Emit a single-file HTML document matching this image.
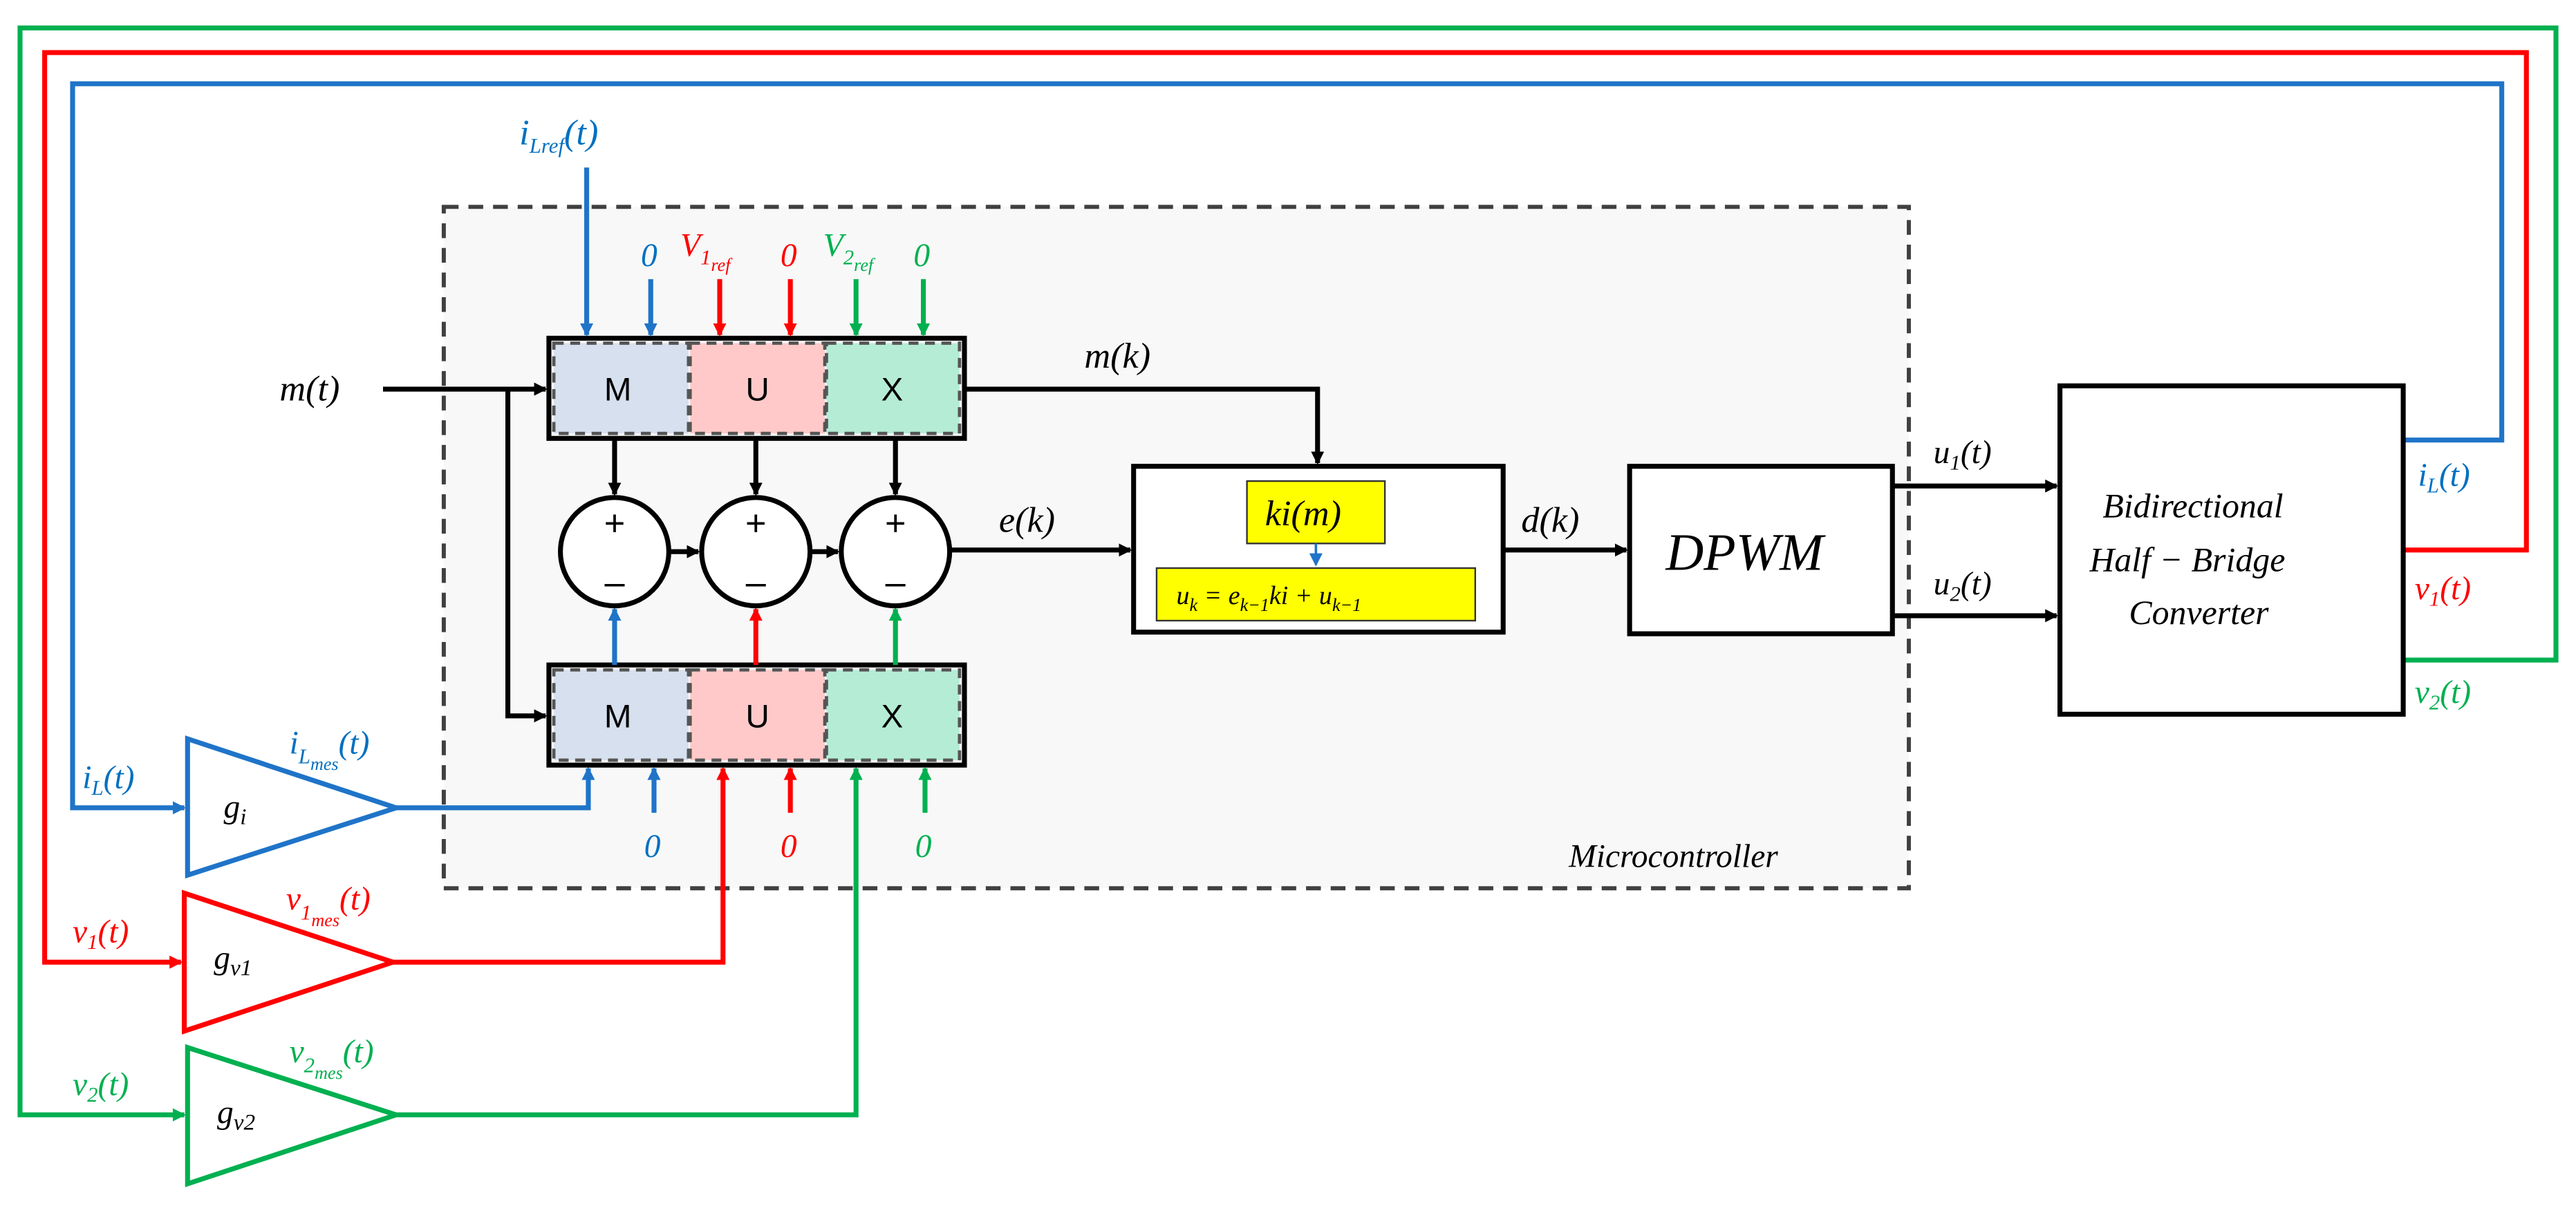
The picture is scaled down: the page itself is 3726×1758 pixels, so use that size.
<!DOCTYPE html>
<html><head><meta charset="utf-8">
<style>
html,body{margin:0;padding:0;background:#fff;}
svg{display:block;}
text{font-family:"Liberation Serif",serif;font-style:italic;}
.s{font-family:"Liberation Sans",sans-serif;font-style:normal;}
</style></head><body>
<svg width="3726" height="1758" viewBox="0 0 1568 740" xmlns="http://www.w3.org/2000/svg">
<defs>
<marker id="ak" markerWidth="8" markerHeight="8" refX="7" refY="4" orient="auto" markerUnits="userSpaceOnUse"><path d="M0,0 L8,4 L0,8 Z" fill="#000"/></marker>
<marker id="ab" markerWidth="8" markerHeight="8" refX="7" refY="4" orient="auto" markerUnits="userSpaceOnUse"><path d="M0,0 L8,4 L0,8 Z" fill="#1f74c8"/></marker>
<marker id="ar" markerWidth="8" markerHeight="8" refX="7" refY="4" orient="auto" markerUnits="userSpaceOnUse"><path d="M0,0 L8,4 L0,8 Z" fill="#f00"/></marker>
<marker id="ag" markerWidth="8" markerHeight="8" refX="7" refY="4" orient="auto" markerUnits="userSpaceOnUse"><path d="M0,0 L8,4 L0,8 Z" fill="#00b050"/></marker>
</defs>
<rect x="0" y="0" width="1568" height="740" fill="#fff"/>
<!-- microcontroller box -->
<rect x="270" y="126" width="892" height="415" fill="#f8f8f8" stroke="#404040" stroke-width="2.5" stroke-dasharray="9,6"/>
<text x="955" y="528" font-size="20">Microcontroller</text>

<!-- feedback loops -->
<polyline points="1463,402 1556,402 1556,17 12,17 12,679 112,679" fill="none" stroke="#00b050" stroke-width="3" marker-end="url(#ag)"/>
<polyline points="1463,335 1538,335 1538,32 27,32 27,586 110,586" fill="none" stroke="#f00" stroke-width="3" marker-end="url(#ar)"/>
<polyline points="1463,268 1523,268 1523,51 44,51 44,492 112,492" fill="none" stroke="#1f74c8" stroke-width="3" marker-end="url(#ab)"/>

<!-- triangles -->
<polygon points="114,450 114,533 241,492" fill="#fff" stroke="#1f74c8" stroke-width="3"/>
<polygon points="112,544 112,628 239,586" fill="#fff" stroke="#f00" stroke-width="3"/>
<polygon points="114,638 114,721 241,679" fill="#fff" stroke="#00b050" stroke-width="3"/>
<text x="136" y="498" font-size="20">g<tspan font-size="14" dy="4">i</tspan></text>
<text x="130" y="590" font-size="20">g<tspan font-size="14" dy="4">v1</tspan></text>
<text x="132" y="684" font-size="20">g<tspan font-size="14" dy="4">v2</tspan></text>
<polyline points="241,492 358,492 358,468" fill="none" stroke="#1f74c8" stroke-width="3" marker-end="url(#ab)"/>
<polyline points="239,586 440,586 440,468" fill="none" stroke="#f00" stroke-width="3" marker-end="url(#ar)"/>
<polyline points="241,679 521,679 521,468" fill="none" stroke="#00b050" stroke-width="3" marker-end="url(#ag)"/>

<text x="176" y="459" font-size="20" fill="#0070c0">i<tspan font-size="13" dy="6">L</tspan><tspan font-size="11" dy="4">mes</tspan><tspan dy="-10">(t)</tspan></text>
<text x="174" y="554" font-size="20" fill="#f00">v<tspan font-size="13" dy="6">1</tspan><tspan font-size="11" dy="4">mes</tspan><tspan dy="-10">(t)</tspan></text>
<text x="176" y="647" font-size="20" fill="#00b050">v<tspan font-size="13" dy="6">2</tspan><tspan font-size="11" dy="4">mes</tspan><tspan dy="-10">(t)</tspan></text>
<text x="50" y="480" font-size="20" fill="#0070c0">i<tspan font-size="13" dy="4">L</tspan><tspan dy="-4">(t)</tspan></text>
<text x="44" y="574" font-size="20" fill="#f00">v<tspan font-size="13" dy="4">1</tspan><tspan dy="-4">(t)</tspan></text>
<text x="44" y="667" font-size="20" fill="#00b050">v<tspan font-size="13" dy="4">2</tspan><tspan dy="-4">(t)</tspan></text>

<!-- mux blocks -->
<g stroke-width="2">
<rect x="334" y="206" width="253" height="61" fill="none" stroke="#000" stroke-width="3"/>
<rect x="337" y="209" width="82" height="55" fill="#d6e0ee" stroke="#555" stroke-dasharray="6,4"/>
<rect x="420" y="209" width="82" height="55" fill="#ffc9c9" stroke="#555" stroke-dasharray="6,4"/>
<rect x="503" y="209" width="81" height="55" fill="#b5ecd6" stroke="#555" stroke-dasharray="6,4"/>
<rect x="334" y="405" width="253" height="61" fill="none" stroke="#000" stroke-width="3"/>
<rect x="337" y="408" width="82" height="55" fill="#d6e0ee" stroke="#555" stroke-dasharray="6,4"/>
<rect x="420" y="408" width="82" height="55" fill="#ffc9c9" stroke="#555" stroke-dasharray="6,4"/>
<rect x="503" y="408" width="81" height="55" fill="#b5ecd6" stroke="#555" stroke-dasharray="6,4"/>
</g>
<g class="s" font-size="20" text-anchor="middle">
<text class="s" x="376" y="244">M</text><text class="s" x="461" y="244">U</text><text class="s" x="543" y="244">X</text>
<text class="s" x="376" y="443">M</text><text class="s" x="461" y="443">U</text><text class="s" x="543" y="443">X</text>
</g>

<!-- m(t) -->
<text x="170" y="244" font-size="22">m(t)</text>
<line x1="233" y1="237" x2="332" y2="237" stroke="#000" stroke-width="3" marker-end="url(#ak)"/>
<polyline points="309,237 309,436 332,436" fill="none" stroke="#000" stroke-width="3" marker-end="url(#ak)"/>

<!-- top inputs -->
<line x1="357" y1="102" x2="357" y2="204" stroke="#1f74c8" stroke-width="3" marker-end="url(#ab)"/>
<text x="316" y="88" font-size="22" fill="#0070c0">i<tspan font-size="13" dy="5">Lref</tspan><tspan dy="-5">(t)</tspan></text>
<line x1="396" y1="170" x2="396" y2="204" stroke="#1f74c8" stroke-width="3" marker-end="url(#ab)"/>
<text x="390" y="162" font-size="20" fill="#0070c0">0</text>
<line x1="438" y1="170" x2="438" y2="204" stroke="#f00" stroke-width="3" marker-end="url(#ar)"/>
<text x="414" y="156" font-size="20" fill="#f00">V<tspan font-size="13" dy="5">1</tspan><tspan font-size="11" dy="4">ref</tspan></text>
<line x1="481" y1="170" x2="481" y2="204" stroke="#f00" stroke-width="3" marker-end="url(#ar)"/>
<text x="475" y="162" font-size="20" fill="#f00">0</text>
<line x1="521" y1="170" x2="521" y2="204" stroke="#00b050" stroke-width="3" marker-end="url(#ag)"/>
<text x="501" y="156" font-size="20" fill="#00b050">V<tspan font-size="13" dy="5">2</tspan><tspan font-size="11" dy="4">ref</tspan></text>
<line x1="562" y1="170" x2="562" y2="204" stroke="#00b050" stroke-width="3" marker-end="url(#ag)"/>
<text x="556" y="162" font-size="20" fill="#00b050">0</text>

<!-- bottom zeros -->
<line x1="398" y1="495" x2="398" y2="468" stroke="#1f74c8" stroke-width="3" marker-end="url(#ab)"/>
<text x="392" y="522" font-size="20" fill="#0070c0">0</text>
<line x1="481" y1="495" x2="481" y2="468" stroke="#f00" stroke-width="3" marker-end="url(#ar)"/>
<text x="475" y="522" font-size="20" fill="#f00">0</text>
<line x1="563" y1="495" x2="563" y2="468" stroke="#00b050" stroke-width="3" marker-end="url(#ag)"/>
<text x="557" y="522" font-size="20" fill="#00b050">0</text>

<!-- mux to circles -->
<g stroke-width="3">
<line x1="374" y1="267" x2="374" y2="301" stroke="#000" marker-end="url(#ak)"/>
<line x1="460" y1="267" x2="460" y2="301" stroke="#000" marker-end="url(#ak)"/>
<line x1="545" y1="267" x2="545" y2="301" stroke="#000" marker-end="url(#ak)"/>
<line x1="374" y1="405" x2="374" y2="371" stroke="#1f74c8" marker-end="url(#ab)"/>
<line x1="460" y1="405" x2="460" y2="371" stroke="#f00" marker-end="url(#ar)"/>
<line x1="545" y1="405" x2="545" y2="371" stroke="#00b050" marker-end="url(#ag)"/>
<line x1="407" y1="336" x2="425" y2="336" stroke="#000" marker-end="url(#ak)"/>
<line x1="493" y1="336" x2="510" y2="336" stroke="#000" marker-end="url(#ak)"/>
<line x1="578" y1="335" x2="688" y2="335" stroke="#000" marker-end="url(#ak)"/>
</g>
<g fill="#fff" stroke="#000" stroke-width="3">
<circle cx="374" cy="336" r="33"/><circle cx="460" cy="336" r="33"/><circle cx="545" cy="336" r="33"/>
</g>
<g class="s" font-size="22" text-anchor="middle">
<text class="s" x="374" y="326">+</text><text class="s" x="374" y="362">–</text>
<text class="s" x="460" y="326">+</text><text class="s" x="460" y="362">–</text>
<text class="s" x="545" y="326">+</text><text class="s" x="545" y="362">–</text>
</g>
<text x="608" y="324" font-size="22">e(k)</text>

<!-- m(k) -->
<polyline points="587,237 802,237 802,282" fill="none" stroke="#000" stroke-width="3" marker-end="url(#ak)"/>
<text x="660" y="224" font-size="22">m(k)</text>

<!-- ki box -->
<rect x="690" y="284" width="225" height="101" fill="#fff" stroke="#000" stroke-width="3"/>
<rect x="759" y="293" width="84" height="38" fill="#ffff00" stroke="#333" stroke-width="1"/>
<text x="770" y="320" font-size="22">ki(m)</text>
<line x1="801" y1="331" x2="801" y2="344" stroke="#1f74c8" stroke-width="1.5" marker-end="url(#ab)"/>
<rect x="704" y="346" width="194" height="32" fill="#ffff00" stroke="#333" stroke-width="1"/>
<text x="716" y="368" font-size="16">u<tspan font-size="11" dy="4">k</tspan><tspan dy="-4"> = e</tspan><tspan font-size="11" dy="4">k−1</tspan><tspan dy="-4">ki + u</tspan><tspan font-size="11" dy="4">k−1</tspan></text>

<line x1="915" y1="335" x2="990" y2="335" stroke="#000" stroke-width="3" marker-end="url(#ak)"/>
<text x="926" y="324" font-size="22">d(k)</text>

<!-- DPWM -->
<rect x="992" y="284" width="160" height="102" fill="#fff" stroke="#000" stroke-width="3"/>
<text x="1014" y="347" font-size="32">DPWM</text>
<line x1="1152" y1="296" x2="1252" y2="296" stroke="#000" stroke-width="3" marker-end="url(#ak)"/>
<line x1="1152" y1="375" x2="1252" y2="375" stroke="#000" stroke-width="3" marker-end="url(#ak)"/>
<text x="1177" y="282" font-size="20">u<tspan font-size="13" dy="4">1</tspan><tspan dy="-4">(t)</tspan></text>
<text x="1177" y="362" font-size="20">u<tspan font-size="13" dy="4">2</tspan><tspan dy="-4">(t)</tspan></text>

<!-- converter -->
<rect x="1254" y="235" width="209" height="200" fill="#fff" stroke="#000" stroke-width="3"/>
<text x="1280" y="315" font-size="21">Bidirectional</text>
<text x="1272" y="348" font-size="21">Half − Bridge</text>
<text x="1296" y="380" font-size="21">Converter</text>

<text x="1472" y="296" font-size="20" fill="#0070c0">i<tspan font-size="13" dy="4">L</tspan><tspan dy="-4">(t)</tspan></text>
<text x="1470" y="365" font-size="20" fill="#f00">v<tspan font-size="13" dy="4">1</tspan><tspan dy="-4">(t)</tspan></text>
<text x="1470" y="428" font-size="20" fill="#00b050">v<tspan font-size="13" dy="4">2</tspan><tspan dy="-4">(t)</tspan></text>
</svg>
</body></html>
